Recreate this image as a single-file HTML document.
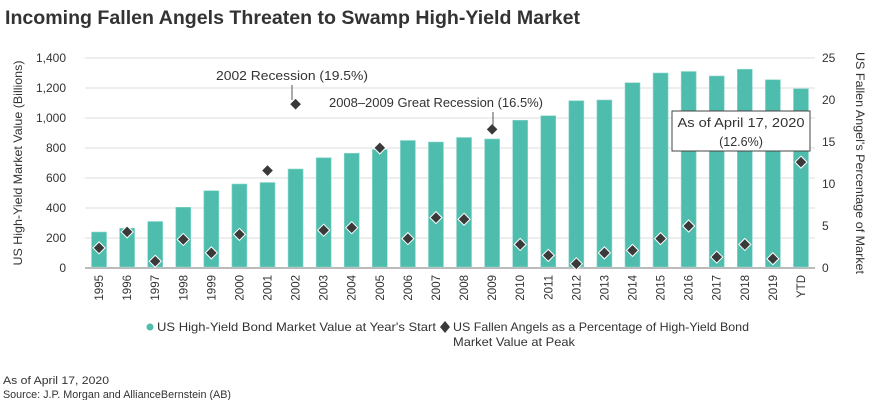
<!DOCTYPE html>
<html><head><meta charset="utf-8"><style>
body{margin:0;background:#fff;width:880px;height:400px;overflow:hidden;font-family:"Liberation Sans",sans-serif;color:#333}
svg{display:block}
text{font-family:"Liberation Sans",sans-serif;fill:#333}
</style></head><body>
<svg id="chart" width="880" height="400" viewBox="0 0 880 400">
<text x="5" y="24" font-size="19" font-weight="bold" textLength="575" lengthAdjust="spacingAndGlyphs">Incoming Fallen Angels Threaten to Swamp High-Yield Market</text>
<g id="grid"></g>
<g id="bars"></g>
<g id="pts"></g>
<g id="xt"></g>
<g id="yl"></g>
<g id="yr"></g>
<text transform="translate(22,163) rotate(-90)" text-anchor="middle" font-size="12" textLength="205" lengthAdjust="spacingAndGlyphs">US High-Yield Market Value (Billions)</text>
<text transform="translate(856,163) rotate(90)" text-anchor="middle" font-size="12" textLength="222" lengthAdjust="spacingAndGlyphs">US Fallen Angel's Percentage of Market</text>
<g>
<text x="292" y="80" text-anchor="middle" font-size="12.5" textLength="152" lengthAdjust="spacingAndGlyphs">2002 Recession (19.5%)</text>
<line x1="292" y1="85" x2="292" y2="100" stroke="#555" stroke-width="1"/>
</g>
<g>
<text x="329" y="107" font-size="12.5" textLength="214" lengthAdjust="spacingAndGlyphs">2008–2009 Great Recession (16.5%)</text>
<line x1="493" y1="112" x2="493" y2="126" stroke="#555" stroke-width="1"/>
</g>
<g>
<rect x="672" y="111" width="138" height="40" fill="#fff" stroke="#444" stroke-width="1"/>
<text x="741" y="127" text-anchor="middle" font-size="12.5" textLength="127" lengthAdjust="spacingAndGlyphs">As of April 17, 2020</text>
<text x="741" y="146" text-anchor="middle" font-size="12.5">(12.6%)</text>
</g>
<g>
<circle cx="150" cy="327" r="3.5" fill="#4fbdad"/>
<text x="157" y="331" font-size="12" textLength="279" lengthAdjust="spacingAndGlyphs">US High-Yield Bond Market Value at Year's Start</text>
<path d="M445,321 L450,327 L445,333 L440,327Z" fill="#3a3a3a"/>
<text x="453" y="331" font-size="12" textLength="296" lengthAdjust="spacingAndGlyphs">US Fallen Angels as a Percentage of High-Yield Bond</text>
<text x="453" y="346" font-size="12" textLength="122" lengthAdjust="spacingAndGlyphs">Market Value at Peak</text>
</g>
<text x="3" y="384" font-size="11" textLength="106" lengthAdjust="spacingAndGlyphs">As of April 17, 2020</text>
<text x="3" y="398" font-size="11" textLength="228" lengthAdjust="spacingAndGlyphs">Source: J.P. Morgan and AllianceBernstein (AB)</text>
</svg>
<script>
const categories=["1995","1996","1997","1998","1999","2000","2001","2002","2003","2004","2005","2006","2007","2008","2009","2010","2011","2012","2013","2014","2015","2016","2017","2018","2019","YTD"];
const marketValues=[240,265,310,405,515,560,570,660,735,765,790,850,840,870,860,985,1015,1115,1120,1235,1300,1310,1280,1325,1255,1195];
const fallenPct=[2.4,4.3,0.8,3.4,1.8,4.0,11.6,19.5,4.5,4.8,14.3,3.5,6.0,5.8,16.5,2.8,1.5,0.5,1.8,2.1,3.5,5.0,1.3,2.8,1.1,12.6];
const leftTicks=[0,200,400,600,800,1000,1200,1400];
const leftTickLabels=["0","200","400","600","800","1,000","1,200","1,400"];
const rightTicks=[0,5,10,15,20,25];
const NS="http://www.w3.org/2000/svg";
const X0=85,X1=815,Y0=268,Y1=58;
const step=(X1-X0)/categories.length;
const xc=i=>X0+step*(i+0.5);
const yL=v=>Y0-(v/1400)*(Y0-Y1);
const yR=v=>Y0-(v/25)*(Y0-Y1);
function mk(tag,attrs,parent){const e=document.createElementNS(NS,tag);for(const k in attrs)e.setAttribute(k,attrs[k]);parent.appendChild(e);return e;}
const grid=document.getElementById('grid');
leftTicks.forEach((t,i)=>{
  const l=mk('line',{x1:X0,x2:X1,y1:yL(t),y2:yL(t),stroke:i===0?'#bbb':'#ddd','stroke-width':i===0?2:1},grid);
  
  
  const tx=mk('text',{x:66,y:yL(t)+4,'text-anchor':'end','font-size':'12'},document.getElementById('yl'));
  tx.textContent=leftTickLabels[i];
  
  
});
rightTicks.forEach(t=>{
  const tx=mk('text',{x:822,y:yR(t)+4,'font-size':'12'},document.getElementById('yr'));
  tx.textContent=String(t);
  
  
});
categories.forEach((c,i)=>{
  const b=mk('rect',{x:xc(i)-7.5,y:yL(marketValues[i]),width:15,height:Y0-1-yL(marketValues[i]),fill:'#4fbdad',stroke:'#8fd8cc','stroke-width':0.6},document.getElementById('bars'));
  
  
  const y=yR(fallenPct[i]),x=xc(i);
  const d=mk('path',{d:`M${x},${y-6} L${x+6},${y} L${x},${y+6} L${x-6},${y}Z`,fill:'#3a3a3a',stroke:'#fff','stroke-width':1},document.getElementById('pts'));
  
  
  const t=mk('text',{transform:`translate(${x+4},${275}) rotate(-90)`,'text-anchor':'end','font-size':'11.5'},document.getElementById('xt'));
  t.textContent=c;
  
  
});
</script>
</body></html>
